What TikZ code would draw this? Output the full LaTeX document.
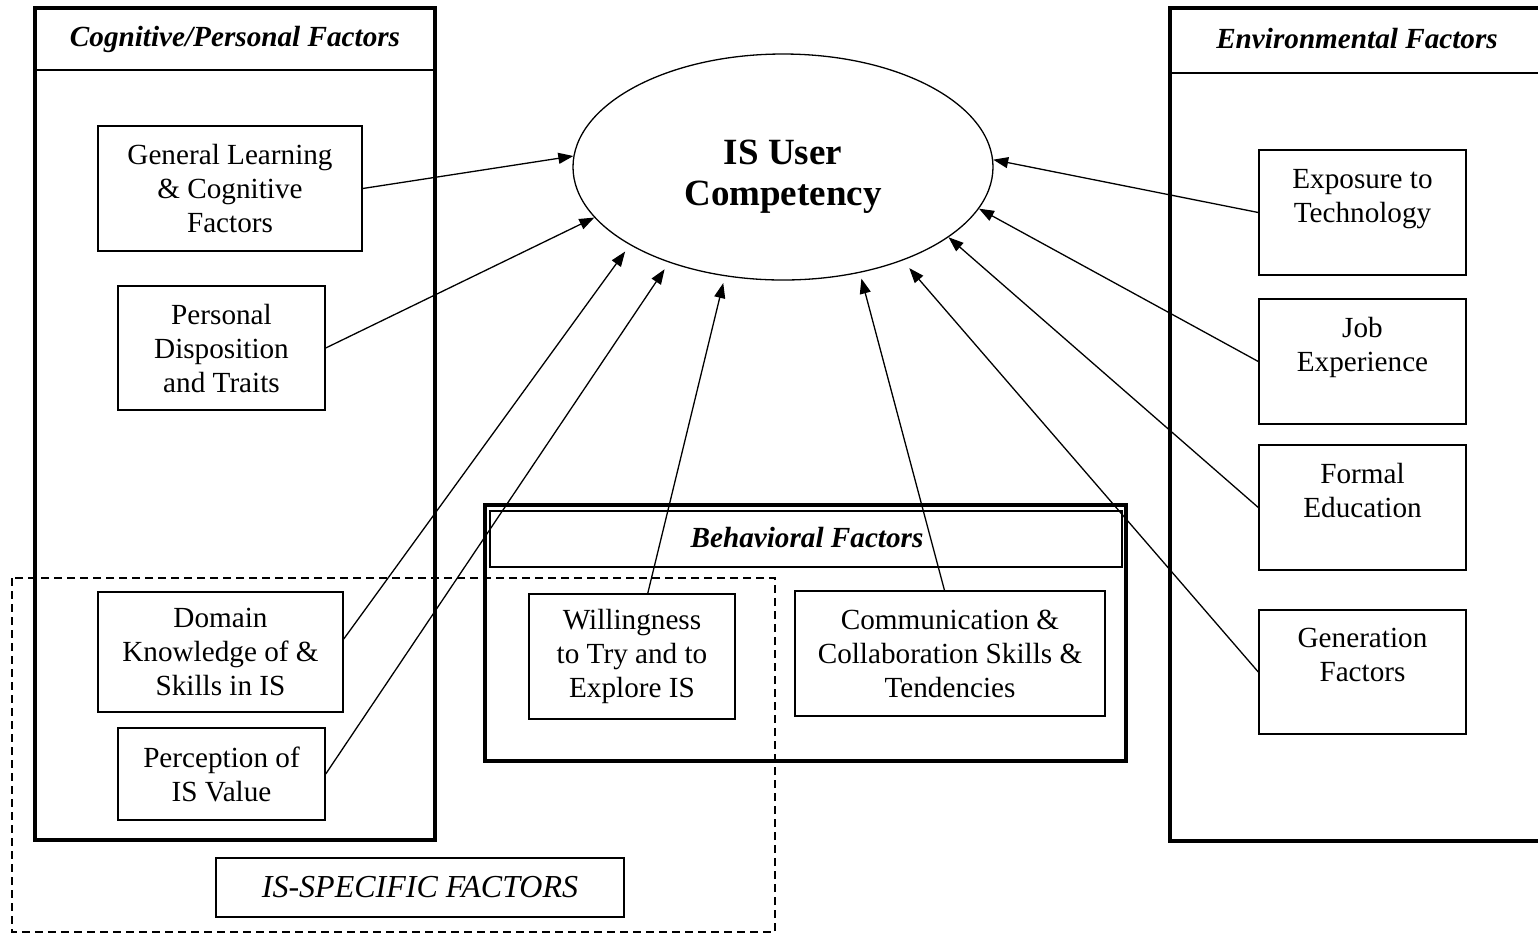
\documentclass[tikz,border=0pt]{standalone}
\usepackage{fontspec}
\setmainfont{Liberation Serif}
\usetikzlibrary{shapes.geometric,arrows.meta}
\tikzset{
  panel/.style={line width=2.2pt},
  thinln/.style={line width=0.65pt},
  hdr/.style={font=\fontsize{14.6}{17}\selectfont\bfseries\itshape},
  fbox/.style={draw,line width=0.7pt,rectangle,inner sep=0pt,align=center,font=\fontsize{14.6}{17}\selectfont},
  conn/.style={line width=0.65pt,-{Triangle[length=7.5pt,width=5.5pt]}},
  isdash/.style={line width=1pt,dash pattern=on 4pt off 2.5pt},
}

\begin{document}
\begin{tikzpicture}[x=0.5pt,y=-0.5pt]
  \useasboundingbox (0,0) rectangle (1538,934);
  \clip (0,0) rectangle (1538,934);
  % panels
  \draw[panel] (35,8) rectangle (435,840);
  \draw[thinln] (35,70) -- (435,70);
  \node[hdr] (cogt) at (235,39) {Cognitive/Personal Factors};
  \draw[panel] (1170,8) rectangle (1560,841);
  \draw[thinln] (1170,73) -- (1560,73);
  \node[hdr] (envt) at (1357,39) {Environmental Factors};
  \draw[panel] (485,505) rectangle (1126,761);
  \draw[thinln] (490,511) rectangle (1122,567);
  \node[hdr] (beht) at (807,538) {Behavioral Factors};
  \draw[isdash] (12,578) rectangle (775,932);
  \node[fbox,minimum width=204pt,minimum height=29.5pt,font=\fontsize{16}{18}\selectfont\itshape] (isspec) at (420,887.5) {IS-SPECIFIC FACTORS};
  % centre
  \node[ellipse,draw,line width=0.65pt,minimum width=210pt,minimum height=113pt,inner sep=0pt] (isuc) at (783,167) {};
  \node[align=center,font=\fontsize{18.5}{20.5}\selectfont\bfseries] (isuct) at (783,177) {IS User\\Competency};
  % factor boxes
  \node[fbox,minimum width=132pt,minimum height=62.5pt] (gen) at (230,188.5) {General Learning\\\& Cognitive\\Factors};
  \node[fbox,minimum width=103.5pt,minimum height=62pt] (pers) at (221.5,348) {Personal\\Disposition\\and Traits};
  \node[fbox,minimum width=122.5pt,minimum height=60pt] (dom) at (220.5,652) {Domain\\Knowledge of \&\\Skills in IS};
  \node[fbox,minimum width=103.5pt,minimum height=46pt] (perc) at (221.5,774) {Perception of\\IS Value};
  \node[fbox,minimum width=103pt,minimum height=62.5pt] (will) at (632,656.5) {Willingness\\to Try and to\\Explore IS};
  \node[fbox,minimum width=155pt,minimum height=62.5pt] (comm) at (950,653.5) {Communication \&\\Collaboration Skills \&\\Tendencies};
  \node[fbox,minimum width=103.5pt,minimum height=62.5pt] (expo) at (1362.5,212.5) {Exposure to\\Technology\\~};
  \node[fbox,minimum width=103.5pt,minimum height=62.5pt] (job) at (1362.5,361.5) {Job\\Experience\\~};
  \node[fbox,minimum width=103.5pt,minimum height=62.5pt] (edu) at (1362.5,507.5) {Formal\\Education\\~};
  \node[fbox,minimum width=103.5pt,minimum height=62pt] (genr) at (1362.5,672) {Generation\\Factors\\~};
  % connectors
  \draw[conn] (gen.east) -- (isuc.177);
  \draw[conn] (pers.east) -- (isuc.195);
  \draw[conn,shorten >=4pt] (dom.6.5) -- (isuc.207);
  \draw[conn,shorten >=4pt] (perc.east) -- (isuc.220);
  \draw[conn,shorten >=3.5pt] (will.76) -- (isuc.242);
  \draw[conn,shorten >=3pt] (comm.95) -- (isuc.306);
  \draw[conn,shorten >=5pt] (genr.west) -- (isuc.322);
  \draw[conn] (edu.west) -- (isuc.337);
  \draw[conn] (job.west) -- (isuc.348);
  \draw[conn] (expo.west) -- (isuc.2);
\end{tikzpicture}
\end{document}
